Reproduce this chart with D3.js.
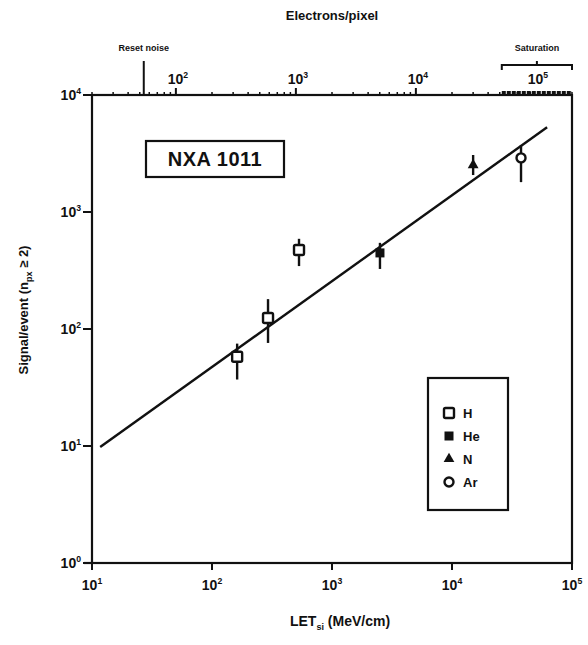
<!DOCTYPE html>
<html>
<head>
<meta charset="utf-8">
<script src="https://cdn.jsdelivr.net/npm/d3@7/dist/d3.min.js"></script>
<style>
  body { margin: 0; background: #fff; }
  svg text { font-family: "Liberation Sans", Arial, sans-serif; font-weight: bold; fill: #111; }
</style>
</head>
<body>
<svg id="chart" width="588" height="645"></svg>
<script>
// ---- data ----
var ions    = ["H", "H", "H", "He", "N", "Ar"]
var letSi   = [162, 293, 531, 2510, 15000, 37600]      // MeV/cm
var signal  = [58, 124, 473, 447, 2520, 2900]          // signal/event
var errLow  = [37, 76, 345, 326, 2070, 1800]
var errHigh = [75, 180, 590, 545, 3070, 3740]

var fitLet    = [11.7, 62000]
var fitSignal = [9.8, 5300]

var legendIons = ["H", "He", "N", "Ar"]
var bottomTicks = [1e1, 1e2, 1e3, 1e4, 1e5]
var leftTicks   = [1e0, 1e1, 1e2, 1e3, 1e4]
var topTicks    = [1e2, 1e3, 1e4, 1e5]
var resetNoise  = 54          // electrons/pixel
var saturation  = [52000, 200000]

var svg = d3.select("#chart")
var ink = "#111"

var x = d3.scaleLog().domain([10, 1e5]).range([92, 572])
var y = d3.scaleLog().domain([1, 1e4]).range([563, 95])
var xTop = d3.scaleLog().domain([20, 2e5]).range([92, 572])

var sup = (sel, base, exp) => {
    sel.append("tspan").text(base)
    sel.append("tspan").attr("dy", -6).attr("font-size", "0.62em").text(exp)
}

// frame
svg.append("rect")
    .attr("x", 92).attr("y", 95).attr("width", 480).attr("height", 468)
    .attr("fill", "none").attr("stroke", ink).attr("stroke-width", 2.2)

// bottom axis ticks + labels
svg.append("line").attr("x1", 84).attr("x2", 92).attr("y1", 563).attr("y2", 563)
    .attr("stroke", ink).attr("stroke-width", 2.2)
svg.selectAll(".bt").data(bottomTicks).enter().append("line")
    .attr("x1", d => x(d)).attr("x2", d => x(d))
    .attr("y1", 563).attr("y2", 570)
    .attr("stroke", ink).attr("stroke-width", 2)
svg.selectAll(".bl").data(bottomTicks).enter().append("text")
    .attr("x", d => x(d)).attr("y", 590)
    .attr("text-anchor", "middle").attr("font-size", 14)
    .each(function (d) { sup(d3.select(this), "10", Math.round(Math.log10(d))) })

// left axis ticks + labels
svg.selectAll(".lt").data(leftTicks).enter().append("line")
    .attr("x1", 83).attr("x2", 92)
    .attr("y1", d => y(d)).attr("y2", d => y(d))
    .attr("stroke", ink).attr("stroke-width", 2)
svg.selectAll(".ll").data(leftTicks).enter().append("text")
    .attr("x", 81).attr("y", d => y(d) + 5)
    .attr("text-anchor", "end").attr("font-size", 14)
    .each(function (d) { sup(d3.select(this), "10", Math.round(Math.log10(d))) })

// top axis (electrons/pixel)
var topMinor = []
topTicks.concat([1e1]).forEach(dec => {
    for (var k = 2; k < 10; k++) {
        var v = dec * k
        if (v >= 20 && v <= 2e5) topMinor.push(v)
    }
})
svg.selectAll(".tm").data(topMinor).enter().append("line")
    .attr("x1", d => xTop(d)).attr("x2", d => xTop(d))
    .attr("y1", 95).attr("y2", 92)
    .attr("stroke", ink).attr("stroke-width", 1.5)
svg.selectAll(".tt").data(topTicks.slice(0, 3)).enter().append("line")
    .attr("x1", d => xTop(d)).attr("x2", d => xTop(d))
    .attr("y1", 95).attr("y2", 88)
    .attr("stroke", ink).attr("stroke-width", 2)
svg.selectAll(".tl").data(topTicks).enter().append("text")
    .attr("x", d => xTop(d) + 2).attr("y", 84)
    .attr("text-anchor", "middle").attr("font-size", 14)
    .each(function (d) { sup(d3.select(this), "10", Math.round(Math.log10(d))) })

// saturation band on the top axis
svg.append("line")
    .attr("x1", xTop(saturation[0])).attr("x2", xTop(saturation[1]))
    .attr("y1", 93).attr("y2", 93)
    .attr("stroke", ink).attr("stroke-width", 4).attr("stroke-dasharray", "4,1")
svg.append("path")
    .attr("d", `M${xTop(saturation[0])},70 V65 H${xTop(saturation[1])} V70
        M${(xTop(saturation[0]) + xTop(saturation[1])) / 2},65 V61`)
    .attr("fill", "none").attr("stroke", ink).attr("stroke-width", 2)
svg.append("text")
    .attr("x", (xTop(saturation[0]) + xTop(saturation[1])) / 2).attr("y", 51)
    .attr("text-anchor", "middle").attr("font-size", 9).text("Saturation")

// reset noise marker
svg.append("line")
    .attr("x1", xTop(resetNoise)).attr("x2", xTop(resetNoise))
    .attr("y1", 61).attr("y2", 95)
    .attr("stroke", ink).attr("stroke-width", 2)
svg.append("text")
    .attr("x", xTop(resetNoise)).attr("y", 51)
    .attr("text-anchor", "middle").attr("font-size", 9).text("Reset noise")

svg.append("text")
    .attr("x", 332).attr("y", 20)
    .attr("text-anchor", "middle").attr("font-size", 13).text("Electrons/pixel")

// axis titles
var xt = svg.append("text")
    .attr("x", 340).attr("y", 626)
    .attr("text-anchor", "middle").attr("font-size", 14)
xt.append("tspan").text("LET")
xt.append("tspan").attr("dy", 4).attr("font-size", 9).text("si")
xt.append("tspan").attr("dy", -4).text(" (MeV/cm)")

var yt = svg.append("text")
    .attr("transform", "translate(28,310) rotate(-90)")
    .attr("text-anchor", "middle").attr("font-size", 13)
yt.append("tspan").text("Signal/event (n")
yt.append("tspan").attr("dy", 4).attr("font-size", 9).text("px")
yt.append("tspan").attr("dy", -4).text(" \u2265 2)")

// fit line
var line = d3.line().x(d => x(d[0])).y(d => y(d[1]))
svg.append("path")
    .datum(d3.zip(fitLet, fitSignal))
    .attr("d", line)
    .attr("fill", "none").attr("stroke", ink).attr("stroke-width", 2.4)

// error bars
svg.selectAll(".err").data(ions).enter().append("line")
    .attr("x1", (d, i) => x(letSi[i])).attr("x2", (d, i) => x(letSi[i]))
    .attr("y1", (d, i) => y(errLow[i])).attr("y2", (d, i) => y(errHigh[i]))
    .attr("stroke", ink).attr("stroke-width", 2.4)

// markers
var drawMarker = (g, ion) => {
    if (ion === "H") {
        g.append("rect").attr("x", -5).attr("y", -5).attr("width", 10).attr("height", 10)
            .attr("rx", 1.5).attr("fill", "#fff").attr("stroke", ink).attr("stroke-width", 2.4)
    } else if (ion === "He") {
        g.append("rect").attr("x", -4.5).attr("y", -4.5).attr("width", 9).attr("height", 9)
            .attr("fill", ink)
    } else if (ion === "N") {
        g.append("path").attr("d", d3.symbol(d3.symbolTriangle, 50)).attr("fill", ink)
    } else {
        g.append("circle").attr("r", 4.5)
            .attr("fill", "#fff").attr("stroke", ink).attr("stroke-width", 2.4)
    }
}
svg.selectAll(".pt").data(ions).enter().append("g")
    .attr("transform", (d, i) => `translate(${x(letSi[i])},${y(signal[i])})`)
    .each(function (d) { drawMarker(d3.select(this), d) })

// NXA 1011 label box
svg.append("rect")
    .attr("x", 146).attr("y", 141).attr("width", 138).attr("height", 36)
    .attr("fill", "#fff").attr("stroke", ink).attr("stroke-width", 2.2)
svg.append("text")
    .attr("x", 215).attr("y", 166)
    .attr("text-anchor", "middle").attr("font-size", 20).attr("letter-spacing", 0.5)
    .text("NXA 1011")

// legend
svg.append("rect")
    .attr("x", 428).attr("y", 378).attr("width", 80).attr("height", 132)
    .attr("fill", "#fff").attr("stroke", ink).attr("stroke-width", 2.2)
var leg = svg.selectAll(".leg").data(legendIons).enter().append("g")
    .attr("transform", (d, i) => `translate(449,${413 + i * 23})`)
leg.each(function (d) { drawMarker(d3.select(this), d) })
leg.append("text")
    .attr("x", 14).attr("y", 5).attr("font-size", 13)
    .text(d => d)
</script>
</body>
</html>
